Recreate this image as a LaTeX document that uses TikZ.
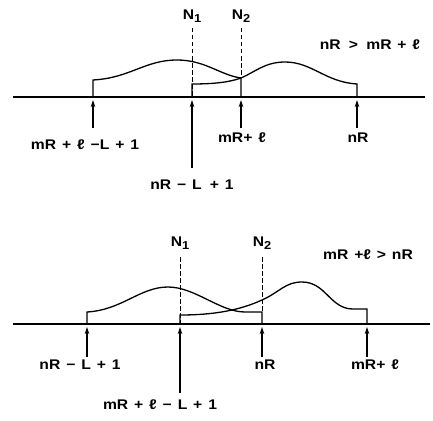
\documentclass[tikz,border=0pt]{standalone}
\usepackage{fontspec}
\setmainfont{Liberation Sans}
\newfontfamily\labfont[FakeStretch=1.12,WordSpace=1.35]{Liberation Sans Bold}
\usetikzlibrary{arrows.meta}
\begin{document}
\begin{tikzpicture}[x=1pt,y=-1pt,
  lbl/.style={font=\labfont\fontsize{14}{16}\selectfont, inner sep=1pt},
  curve/.style={line width=1.3pt},
  axis/.style={line width=1.3pt},
  guide/.style={line width=0.9pt, dash pattern=on 4.5pt off 2.5pt},
  uparrow/.style={line width=1.1pt, -{Stealth[length=7pt,width=4.5pt]}}]
\useasboundingbox (0,0) rectangle (433,420);
\newcommand{\Nsub}[1]{N\raisebox{-0.4ex}{\fontsize{11.5}{12}\selectfont #1}}
% ===== top panel =====
\coordinate (ta0) at (13,97); \coordinate (ta1) at (425,97);
\draw[axis] (ta0) -- (ta1);
\draw[curve] (93,97) -- (93,80) .. controls (130,78) and (145,60) .. (177,60)
  .. controls (205,60) and (220,75) .. (241,78) -- (241,97);
\draw[curve] (192,97) -- (192,84) .. controls (215,84) and (230,82) .. (241,78)
  .. controls (255,72) and (265,62) .. (285,62) .. controls (312,62) and (325,82) .. (357,84) -- (357,97);
\node[lbl] (tN1) at (192,16) {\Nsub{1}};
\node[lbl] (tN2) at (241,16) {\Nsub{2}};
\coordinate (tN1b) at (192,97); \coordinate (tN2b) at (241,78);
\draw[guide] (192,28) -- (tN1b);
\draw[guide] (241,28) -- (tN2b);
\node[lbl] (tcond) at (370,45) {nR \,>\, mR + ℓ};
\node[lbl] (tl1) at (85,145) {mR + ℓ −L + 1};
\node[lbl] (tl2) at (192,185) {nR − L \,+ 1};
\node[lbl] (tl3) at (242,138) {mR+ ℓ};
\node[lbl] (tl4) at (358,138) {nR};
\coordinate (ts1) at (93,128); \coordinate (te1) at (93,100);
\coordinate (ts2) at (192,168); \coordinate (te2) at (192,100);
\coordinate (ts3) at (241,128); \coordinate (te3) at (241,100);
\coordinate (ts4) at (357,128); \coordinate (te4) at (357,100);
\draw[uparrow] (ts1) -- (te1);
\draw[uparrow] (ts2) -- (te2);
\draw[uparrow] (ts3) -- (te3);
\draw[uparrow] (ts4) -- (te4);
% ===== bottom panel =====
\coordinate (ba0) at (13,324); \coordinate (ba1) at (430,324);
\draw[axis] (ba0) -- (ba1);
\draw[curve] (87,324) -- (87,312) .. controls (122,310) and (140,287) .. (168,287)
  .. controls (195,287) and (220,312) .. (245,312) -- (262,312) -- (262,324);
\draw[curve] (180,324) -- (180,315) .. controls (215,315) and (240,310) .. (262,300)
  .. controls (280,292) and (285,282) .. (302,282) .. controls (326,282) and (330,309) .. (353,309) -- (367,309) -- (367,324);
\node[lbl] (bN1) at (180,243) {\Nsub{1}};
\node[lbl] (bN2) at (262,243) {\Nsub{2}};
\coordinate (bN1b) at (180,324); \coordinate (bN2b) at (262,312);
\draw[guide] (180,257) -- (bN1b);
\draw[guide] (262,257) -- (bN2b);
\node[lbl] (bcond) at (368,255) {mR +ℓ > nR};
\node[lbl] (bl1) at (80,365) {nR − L + 1};
\node[lbl] (bl2) at (265,365) {nR};
\node[lbl] (bl3) at (375,365) {mR+ ℓ};
\node[lbl] (bl4) at (160,405) {mR + ℓ − L + 1};
\coordinate (bs1) at (87,357); \coordinate (be1) at (87,327);
\coordinate (bs2) at (180,393); \coordinate (be2) at (180,327);
\coordinate (bs3) at (262,357); \coordinate (be3) at (262,327);
\coordinate (bs4) at (367,357); \coordinate (be4) at (367,327);
\draw[uparrow] (bs1) -- (be1);
\draw[uparrow] (bs2) -- (be2);
\draw[uparrow] (bs3) -- (be3);
\draw[uparrow] (bs4) -- (be4);
\end{tikzpicture}
\end{document}
